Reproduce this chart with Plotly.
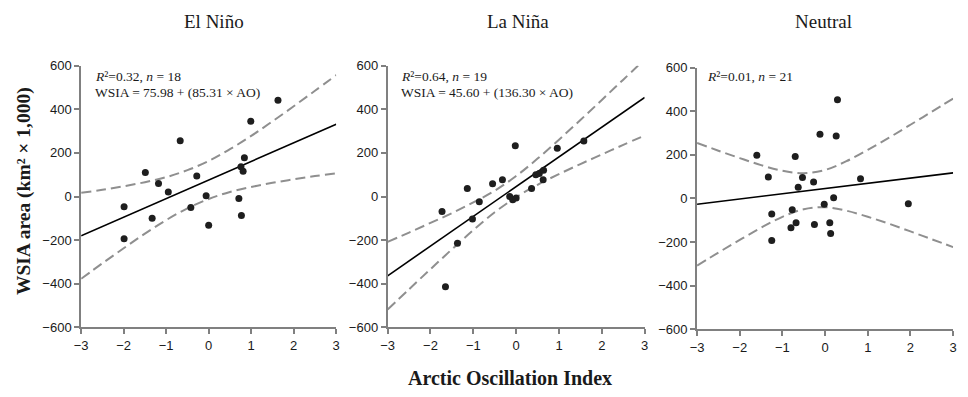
import plotly.graph_objects as go

# ---------------- data ----------------
panel_titles = ["El Niño", "La Niña", "Neutral"]

elnino_ao = [-1.99, -1.99, -1.49, -1.33, -1.18, -0.95, -0.67, -0.42, -0.28,
             -0.06, 0.00, 0.71, 0.77, 0.76, 0.81, 0.84, 0.99, 1.63]
elnino_wsia = [-47, -193, 110, -99, 60, 21, 256, -50, 94,
               4, -131, -9, -87, 137, 116, 178, 345, 442]

lanina_ao = [-1.73, -1.14, -0.86, -1.02, -1.37, -1.65, -0.55, -0.32, -0.15, -0.08,
             0.00, -0.02, 0.36, 0.46, 0.54, 0.64, 0.63, 0.96, 1.58]
lanina_wsia = [-69, 37, -24, -103, -214, -413, 59, 77, 0, -15,
               -7, 233, 37, 100, 106, 121, 77, 221, 255]

neutral_ao = [-1.60, -1.33, -1.25, -1.25, -0.70, -0.53, -0.63, -0.77, -0.80, -0.68,
              -0.27, -0.25, -0.12, -0.02, 0.11, 0.13, 0.20, 0.26, 0.29, 0.83, 1.95]
neutral_wsia = [198, 99, -71, -193, 192, 96, 52, -52, -134, -111,
                75, -119, 295, -27, -111, -161, 3, 287, 453, 91, -24]

# regression coefficients (intercept, slope)
intercepts = [75.98, 45.60, 45.5]
slopes = [85.31, 136.30, 24.0]

# 95% confidence band values
band_x = [-3, -2.5, -2, -1.5, -1, -0.5, 0, 0.5, 1, 1.5, 2, 2.5, 3]
elnino_upper = [17, 31, 47, 66, 89, 121, 163, 217, 278, 345, 414, 485, 557]
elnino_lower = [-377, -306, -237, -170, -108, -54, -11, 21, 44, 63, 79, 94, 107]
lanina_upper = [-208, -165, -121, -76, -27, 27, 94, 174, 261, 351, 443, 536, 629]
lanina_lower = [-518, -425, -333, -242, -154, -72, -3, 54, 103, 149, 193, 237, 280]
neutral_upper = [255, 219, 185, 153, 127, 116, 131, 171, 223, 279, 338, 398, 458]
neutral_lower = [-308, -248, -190, -134, -84, -49, -40, -56, -84, -116, -151, -187, -223]

stat_lines = ["<i>R</i>²=0.32, <i>n</i> = 18",
              "<i>R</i>²=0.64, <i>n</i> = 19",
              "<i>R</i>²=0.01, <i>n</i> = 21"]
eq_lines = ["WSIA = 75.98 + (85.31 × AO)",
            "WSIA = 45.60 + (136.30 × AO)",
            ""]

x_ticks = [-3, -2, -1, 0, 1, 2, 3]
y_ticks = [-600, -400, -200, 0, 200, 400, 600]

# ---------------- figure ----------------
W, H = 968, 397
xs_all = [elnino_ao, lanina_ao, neutral_ao]
ys_all = [elnino_wsia, lanina_wsia, neutral_wsia]
ups = [elnino_upper, lanina_upper, neutral_upper]
los = [elnino_lower, lanina_lower, neutral_lower]

x_domains = [(75, 333), (385, 645), (698, 957)]
y_domains = [(61, 333), (61, 333), (63, 335)]

fig = go.Figure()
band_color = "#8f8f8f"
for i in range(3):
    sfx = "" if i == 0 else str(i + 1)
    xa, ya = "x" + sfx, "y" + sfx
    for band in (ups[i], los[i]):
        fig.add_trace(go.Scatter(x=band_x, y=band, mode="lines", xaxis=xa, yaxis=ya,
                                 line=dict(color=band_color, width=2, dash="10px,5px",
                                           shape="spline", smoothing=1),
                                 showlegend=False, hoverinfo="skip"))
    lx = [band_x[0], band_x[-1]]
    ly = [intercepts[i] + slopes[i] * v for v in lx]
    fig.add_trace(go.Scatter(x=lx, y=ly, mode="lines", xaxis=xa, yaxis=ya,
                             line=dict(color="black", width=1.6),
                             showlegend=False, hoverinfo="skip"))
    fig.add_trace(go.Scatter(x=xs_all[i], y=ys_all[i], mode="markers", xaxis=xa, yaxis=ya,
                             marker=dict(color="#1e1e1e", size=7),
                             showlegend=False))

axis_common = dict(showline=True, linecolor="#808080", linewidth=1.8,
                   ticks="outside", ticklen=5, tickcolor="#808080", tickwidth=1.5,
                   showgrid=False, zeroline=False,
                   tickfont=dict(family="Liberation Sans, Arial", size=13, color="#1a1a1a"))

layout = dict(width=W, height=H, margin=dict(l=0, r=0, t=0, b=0),
              paper_bgcolor="white", plot_bgcolor="white", showlegend=False)
for i in range(3):
    sfx = "" if i == 0 else str(i + 1)
    x0, x1 = x_domains[i]
    y0, y1 = y_domains[i]
    layout["xaxis" + sfx] = dict(axis_common, domain=[x0 / W, x1 / W], range=[-3, 3],
                                 tickvals=x_ticks, anchor="y" + sfx)
    layout["yaxis" + sfx] = dict(axis_common, domain=[1 - y1 / H, 1 - y0 / H],
                                 range=[-600, 600], tickvals=y_ticks, anchor="x" + sfx)
fig.update_layout(**layout)

serif = "Liberation Serif, Times New Roman, serif"
annotations = []
title_x = [209, 517, 826]
stat_x = [87, 396, 706]
for i in range(3):
    annotations.append(dict(text=panel_titles[i], x=title_x[i] / W, y=1 - 15 / H,
                            xref="paper", yref="paper", showarrow=False,
                            xanchor="center", yanchor="middle",
                            font=dict(family=serif, size=19, color="#1a1a1a")))
    annotations.append(dict(text=stat_lines[i], x=stat_x[i] / W, y=1 - 72 / H,
                            xref="paper", yref="paper", showarrow=False,
                            xanchor="left", yanchor="middle",
                            font=dict(family=serif, size=13.5, color="#1a1a1a")))
    if eq_lines[i]:
        annotations.append(dict(text=eq_lines[i], x=stat_x[i] / W, y=1 - 89 / H,
                                xref="paper", yref="paper", showarrow=False,
                                xanchor="left", yanchor="middle",
                                font=dict(family=serif, size=13.5, color="#1a1a1a")))

annotations.append(dict(text="<b>WSIA area (km² × 1,000)</b>", x=16.5 / W, y=1 - 191 / H,
                        xref="paper", yref="paper", showarrow=False, textangle=-90,
                        xanchor="center", yanchor="middle",
                        font=dict(family=serif, size=19.5, color="#1a1a1a")))
annotations.append(dict(text="<b>Arctic Oscillation Index</b>", x=508.5 / W, y=1 - 386 / H,
                        xref="paper", yref="paper", showarrow=False,
                        xanchor="center", yanchor="middle",
                        font=dict(family=serif, size=20, color="#1a1a1a")))
fig.update_layout(annotations=annotations)

fig.write_html("out.html")
